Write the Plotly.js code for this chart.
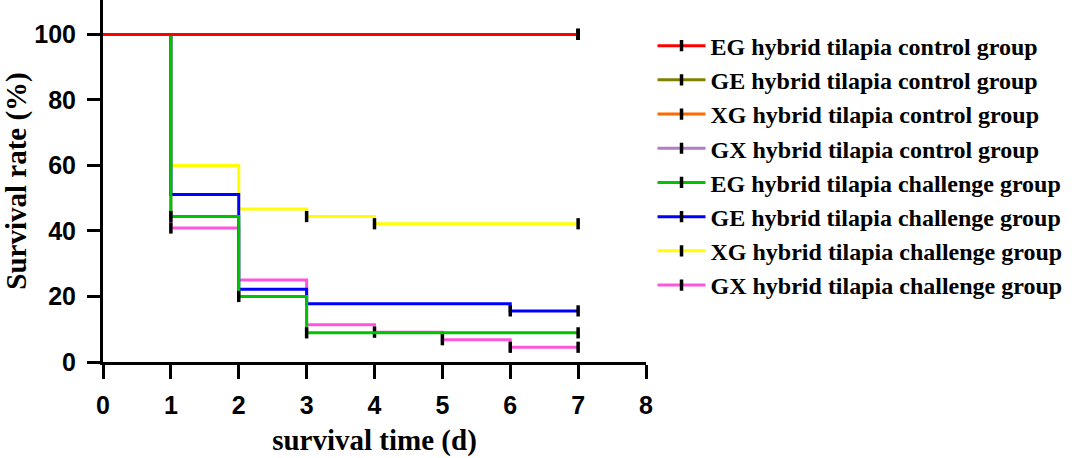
<!DOCTYPE html>
<html>
<head>
<meta charset="utf-8">
<script src="https://cdn.plot.ly/plotly-3.0.1.min.js"></script>
<style>
  html, body { margin: 0; padding: 0; background: #fff; }
  #chart { width: 1080px; height: 458px; }
</style>
</head>
<body>
<div id="chart"></div>
<script>
// survival days
const days = [0, 1, 2, 3, 4, 5, 6, 7];

// group names, in legend order
const groupNames = [
  'EG hybrid tilapia control group',
  'GE hybrid tilapia control group',
  'XG hybrid tilapia control group',
  'GX hybrid tilapia control group',
  'EG hybrid tilapia challenge group',
  'GE hybrid tilapia challenge group',
  'XG hybrid tilapia challenge group',
  'GX hybrid tilapia challenge group'
];
const groupColors = ['#ff0000', '#808000', '#ff6a00', '#b07ec8', '#00c400', '#0000ff', '#ffff00', '#ff55dd'];

// survival rate (%) per day
const egControl = [100, 100, 100, 100, 100, 100, 100, 100];
const geControl = [100, 100, 100, 100, 100, 100, 100, 100];
const xgControl = [100, 100, 100, 100, 100, 100, 100, 100];
const gxControl = [100, 100, 100, 100, 100, 100, 100, 100];
const egChallenge = [100, 44.4, 20.0, 8.9, 8.9, 8.9, 8.9, 8.9];
const geChallenge = [100, 51.1, 22.2, 17.8, 17.8, 17.8, 15.6, 15.6];
const xgChallenge = [100, 60.0, 46.7, 44.4, 42.2, 42.2, 42.2, 42.2];
const gxChallenge = [100, 40.9, 25.0, 11.4, 9.1, 6.8, 4.5, 4.5];

// indices of days with censored marks
const egControlCensor = [7];
const geControlCensor = [7];
const xgControlCensor = [7];
const gxControlCensor = [7];
const egChallengeCensor = [1, 2, 3, 7];
const geChallengeCensor = [6, 7];
const xgChallengeCensor = [3, 4, 7];
const gxChallengeCensor = [1, 4, 5, 6, 7];

const series = [egControl, geControl, xgControl, gxControl, egChallenge, geChallenge, xgChallenge, gxChallenge];
const censors = [egControlCensor, geControlCensor, xgControlCensor, gxControlCensor,
  egChallengeCensor, geChallengeCensor, xgChallengeCensor, gxChallengeCensor];

const traces = [];
// drawn last-to-first so the first group sits on top; legendrank keeps legend order
for (let i = series.length - 1; i >= 0; i--) {
  traces.push({
    x: days,
    y: series[i],
    name: groupNames[i],
    legendrank: i + 1,
    type: 'scatter',
    mode: 'lines+markers',
    line: {shape: 'hv', color: groupColors[i], width: 3},
    marker: {symbol: 'line-ns', size: 8, color: '#000', line: {color: '#000', width: 3.5}},
    selectedpoints: censors[i],
    selected: {marker: {opacity: 1}},
    unselected: {marker: {opacity: 0}},
    cliponaxis: false,
    hoverinfo: 'skip'
  });
}

const tickFont = {family: 'Liberation Sans, Arial, sans-serif', size: 25, color: '#000', weight: 'bold'};
const titleFont = {family: 'Liberation Serif, Times New Roman, serif', size: 29, color: '#000', weight: 'bold'};

Plotly.newPlot('chart', traces, {
  width: 1080,
  height: 458,
  margin: {l: 103, r: 434, t: 0, b: 96},
  paper_bgcolor: '#fff',
  plot_bgcolor: '#fff',
  showlegend: true,
  xaxis: {
    range: [0, 8],
    tickvals: [0, 1, 2, 3, 4, 5, 6, 7, 8],
    showgrid: false,
    zeroline: false,
    showline: true,
    linecolor: '#000',
    linewidth: 3,
    ticks: 'outside',
    ticklen: 14,
    tickwidth: 3,
    tickcolor: '#000',
    ticklabelstandoff: 5,
    tickfont: tickFont,
    title: {text: 'survival time (d)', font: titleFont, standoff: 12}
  },
  yaxis: {
    range: [0, 110.5],
    tickvals: [0, 20, 40, 60, 80, 100],
    showgrid: false,
    zeroline: false,
    showline: true,
    linecolor: '#000',
    linewidth: 3,
    ticks: 'outside',
    ticklen: 13,
    tickwidth: 3,
    tickcolor: '#000',
    ticklabelstandoff: 6,
    tickfont: tickFont,
    title: {text: 'Survival rate (%)', font: titleFont, standoff: 10}
  },
  legend: {
    x: 1.012,
    xanchor: 'left',
    y: 0.935,
    yanchor: 'top',
    traceorder: 'normal',
    itemwidth: 48,
    bgcolor: 'rgba(0,0,0,0)',
    font: {family: 'Liberation Serif, Times New Roman, serif', size: 24, color: '#000', weight: 'bold'}
  }
}, {displayModeBar: false, staticPlot: true});
</script>
</body>
</html>
